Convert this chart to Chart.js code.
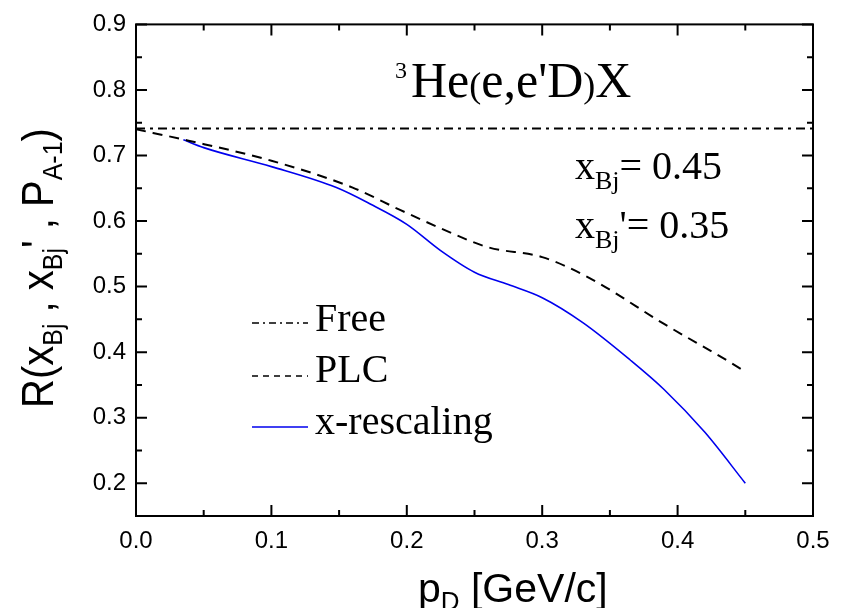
<!DOCTYPE html>
<html>
<head>
<meta charset="utf-8">
<script src="https://cdn.jsdelivr.net/npm/chart.js@4/dist/chart.umd.min.js"></script>
<style>
  body { margin: 0; background: #fff; }
  #wrap { width: 846px; height: 608px; }
</style>
</head>
<body>
<div id="wrap"><canvas id="myChart" width="846" height="608"></canvas></div>
<script>
// values
const freeX = [0.0, 0.5];
const freeY = [0.741, 0.741];

const plcX = [0.0, 0.038, 0.1, 0.16, 0.195, 0.225, 0.26, 0.3, 0.335, 0.39, 0.44, 0.45];
const plcY = [0.740, 0.723, 0.692, 0.651, 0.617, 0.589, 0.560, 0.545, 0.513, 0.443, 0.383, 0.370];

const rescX = [0.035, 0.05, 0.1, 0.148, 0.173, 0.2, 0.225, 0.25, 0.275, 0.3, 0.33, 0.365, 0.39, 0.42, 0.45];
const rescY = [0.724, 0.712, 0.683, 0.651, 0.626, 0.595, 0.555, 0.522, 0.503, 0.483, 0.445, 0.388, 0.343, 0.278, 0.200];

const xTicks = [0.0, 0.1, 0.2, 0.3, 0.4, 0.5];
const yTicks = [0.2, 0.3, 0.4, 0.5, 0.6, 0.7, 0.8, 0.9];
const seriesNames = ['Free', 'PLC', 'x-rescaling'];

const SANS = '"Liberation Sans", Arial, sans-serif';
const SERIF = '"Liberation Serif", "Times New Roman", serif';

function pts(xs, ys) {
    return xs.map((x, i) => ({ x: x, y: ys[i] }));
}

// draw a run of text pieces, each with its own size and vertical shift
function drawRich(ctx, parts, x, y, rot, sy) {
    ctx.save();
    ctx.translate(x, y);
    if (rot) ctx.rotate(rot);
    if (sy) ctx.scale(1, sy);
    ctx.fillStyle = '#000';
    ctx.textBaseline = 'alphabetic';
    ctx.textAlign = 'left';
    let cx = 0;
    for (const p of parts) {
        ctx.font = p.size + 'px ' + (p.fam || SANS);
        ctx.fillText(p.t, cx, p.dy || 0);
        cx += ctx.measureText(p.t).width;
    }
    ctx.restore();
}

const framePlugin = {
    id: 'frame',
    afterDatasetsDraw(chart) {
        const ctx = chart.ctx;
        const a = chart.chartArea;
        const xs = chart.scales.x, ys = chart.scales.y;
        ctx.save();
        ctx.strokeStyle = '#000';
        ctx.lineWidth = 2;
        ctx.strokeRect(a.left, a.top, a.right - a.left, a.bottom - a.top);

        // inward ticks on all four sides, majors every 0.1, minors at 0.05
        ctx.beginPath();
        for (let i = 0; i <= 10; i++) {
            const v = i * 0.05;
            const len = i % 2 === 0 ? 11 : 6;
            const px = xs.getPixelForValue(v);
            ctx.moveTo(px, a.bottom); ctx.lineTo(px, a.bottom - len);
            ctx.moveTo(px, a.top); ctx.lineTo(px, a.top + len);
        }
        for (let i = 3; i <= 18; i++) {
            const v = i * 0.05;
            const len = i % 2 === 0 ? 11 : 6;
            const py = ys.getPixelForValue(v);
            ctx.moveTo(a.left, py); ctx.lineTo(a.left + len, py);
            ctx.moveTo(a.right, py); ctx.lineTo(a.right - len, py);
        }
        ctx.stroke();

        // legend
        const legendRows = [
            { y: 323, name: seriesNames[0], color: '#000', dash: [7, 4, 2, 4] },
            { y: 376, name: seriesNames[1], color: '#000', dash: [6, 5] },
            { y: 427, name: seriesNames[2], color: '#0000ee', dash: [] }
        ];
        for (const r of legendRows) {
            ctx.beginPath();
            ctx.setLineDash(r.dash);
            ctx.strokeStyle = r.color;
            ctx.lineWidth = 1.5;
            ctx.moveTo(252, r.y);
            ctx.lineTo(308, r.y);
            ctx.stroke();
        }
        ctx.setLineDash([]);
        ctx.restore();

        drawRich(ctx, [{ t: seriesNames[0], size: 40, fam: SERIF }], 315, 331);
        drawRich(ctx, [{ t: seriesNames[1], size: 40, fam: SERIF }], 315, 382);
        drawRich(ctx, [{ t: seriesNames[2], size: 40, fam: SERIF }], 315, 434);

        // reaction label
        drawRich(ctx, [{ t: '3', size: 24, fam: SERIF, dy: -19 }], 395, 97);
        drawRich(ctx, [
            { t: 'He', size: 50, fam: SERIF },
            { t: '(', size: 36, fam: SERIF },
            { t: "e,e'D", size: 50, fam: SERIF },
            { t: ')', size: 36, fam: SERIF },
            { t: 'X', size: 50, fam: SERIF }
        ], 411, 97);

        drawRich(ctx, [
            { t: 'x', size: 40, fam: SERIF },
            { t: 'Bj', size: 26, fam: SERIF, dy: 10 },
            { t: '= 0.45', size: 40, fam: SERIF }
        ], 575, 179);
        drawRich(ctx, [
            { t: 'x', size: 40, fam: SERIF },
            { t: 'Bj', size: 26, fam: SERIF, dy: 10 },
            { t: "'= 0.35", size: 40, fam: SERIF }
        ], 575, 238);

        // axis titles
        drawRich(ctx, [
            { t: 'p', size: 41 },
            { t: 'D', size: 26, dy: 8 },
            { t: ' [GeV/c]', size: 41 }
        ], 418, 602);
        drawRich(ctx, [
            { t: 'R(x', size: 40 },
            { t: 'Bj', size: 25, dy: 8 },
            { t: ' , x', size: 40 },
            { t: 'Bj', size: 25, dy: 8 },
            { t: "' , P", size: 40 },
            { t: 'A-1', size: 25, dy: 8 },
            { t: ')', size: 40 }
        ], 53, 408, -Math.PI / 2, 1.1);
    }
};

const data = {
    datasets: [
        {
            label: seriesNames[0],
            data: pts(freeX, freeY),
            borderColor: '#000',
            borderWidth: 2,
            borderDash: [9, 5, 3, 5],
            pointRadius: 0
        },
        {
            label: seriesNames[1],
            data: pts(plcX, plcY),
            borderColor: '#000',
            borderWidth: 2,
            borderDash: [10, 7],
            pointRadius: 0,
            cubicInterpolationMode: 'monotone'
        },
        {
            label: seriesNames[2],
            data: pts(rescX, rescY),
            borderColor: '#0000ee',
            borderWidth: 1.6,
            pointRadius: 0,
            cubicInterpolationMode: 'monotone'
        }
    ]
};

const config = {
    type: 'line',
    data: data,
    plugins: [framePlugin],
    options: {
        responsive: false,
        animation: false,
        layout: { padding: { top: 21, right: 33, left: 0, bottom: 0 } },
        plugins: {
            legend: { display: false },
            tooltip: { enabled: false }
        },
        scales: {
            x: {
                type: 'linear',
                min: 0,
                max: 0.5,
                afterBuildTicks: (s) => { s.ticks = xTicks.map(v => ({ value: v })); },
                afterFit: (s) => { s.height = 92; },
                grid: { display: false, drawTicks: false },
                border: { display: false },
                ticks: {
                    color: '#000',
                    padding: 11,
                    maxRotation: 0,
                    font: { family: SANS, size: 24 },
                    callback: (v) => Number(v).toFixed(1)
                }
            },
            y: {
                type: 'linear',
                min: 0.15,
                max: 0.9,
                afterBuildTicks: (s) => { s.ticks = yTicks.map(v => ({ value: v })); },
                afterFit: (s) => { s.width = 136; },
                grid: { display: false, drawTicks: false },
                border: { display: false },
                ticks: {
                    color: '#000',
                    padding: 10,
                    font: { family: SANS, size: 24 },
                    callback: (v) => Number(v).toFixed(1)
                }
            }
        }
    }
};

const myChart = new Chart(document.querySelector('#myChart'), config);
</script>
</body>
</html>
